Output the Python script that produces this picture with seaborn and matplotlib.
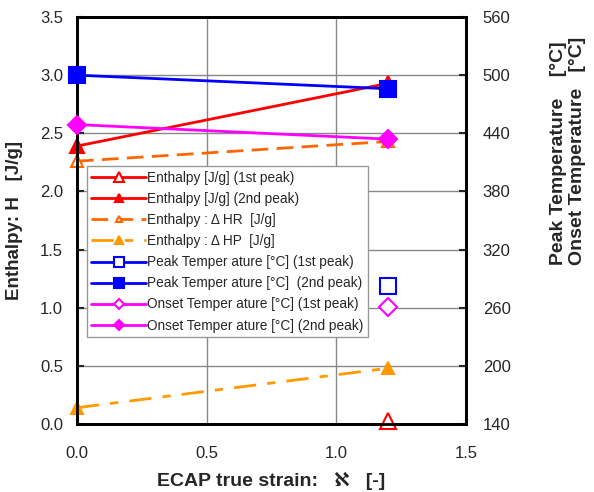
import numpy as np
import pandas as pd
import matplotlib
matplotlib.use("Agg")
import matplotlib.pyplot as plt
import seaborn as sns

# --- DATA ---
strain = [0.0, 1.2]
enthalpy_1st = [np.nan, 0.03]
enthalpy_2nd = [2.39, 2.93]
enthalpy_dhr = [2.26, 2.43]
enthalpy_dhp = [0.14, 0.48]
peak_1st = [np.nan, 282]
peak_2nd = [500, 486]
onset_1st = [np.nan, 261]
onset_2nd = [449, 434]

left_ticks = [0.0, 0.5, 1.0, 1.5, 2.0, 2.5, 3.0, 3.5]
right_ticks = [140, 200, 260, 320, 380, 440, 500, 560]
x_ticks = [0.0, 0.5, 1.0, 1.5]

# --- STYLE ---
sns.set_style("ticks")
plt.rcParams['font.family'] = ['Liberation Sans', 'DejaVu Sans']
plt.rcParams['axes.linewidth'] = 2

fig = plt.figure(figsize=(5.94, 4.92), dpi=100)
ax = fig.add_axes([0.1296, 0.1382, 0.6549, 0.8272])
ax2 = ax.twinx()

def draw(axis, y, label, color, marker, filled, ls='-', ms=10):
    df = pd.DataFrame({'x': strain, 'y': y}).dropna()
    sns.lineplot(data=df, x='x', y='y', ax=axis, color=color, marker=marker,
                 markersize=ms, markeredgewidth=1.5, markeredgecolor=color,
                 markerfacecolor=color if filled else 'white',
                 linestyle=ls, linewidth=2, label=label, errorbar=None,
                 clip_on=False, zorder=5)

draw(ax, enthalpy_1st, 'Enthalpy [J/g] (1st peak)', '#FF0000', '^', False, ms=11)
draw(ax, enthalpy_2nd, 'Enthalpy [J/g] (2nd peak)', '#FF0000', '^', True)
draw(ax, enthalpy_dhr, 'Enthalpy : Δ HR  [J/g]', '#FF6600', '^', False, ls=(0, (6, 3)), ms=8)
draw(ax, enthalpy_dhp, 'Enthalpy : Δ HP  [J/g]', '#FF9900', '^', True, ls=(0, (8, 4, 3, 4)), ms=9)
draw(ax2, peak_1st, 'Peak Temper ature [°C] (1st peak)', '#0000FF', 's', False, ms=11)
draw(ax2, peak_2nd, 'Peak Temper ature [°C]  (2nd peak)', '#0000FF', 's', True, ms=11)
draw(ax2, onset_1st, 'Onset Temper ature [°C] (1st peak)', '#FF00FF', 'D', False, ms=9)
draw(ax2, onset_2nd, 'Onset Temper ature [°C] (2nd peak)', '#FF00FF', 'D', True, ms=9)

h1, l1 = ax.get_legend_handles_labels()
h2, l2 = ax2.get_legend_handles_labels()
ax.get_legend().remove()
ax2.get_legend().remove()
leg = ax2.legend(h1 + h2, l1 + l2, loc='lower left', bbox_to_anchor=(0.025, 0.213),
                 fontsize=9.8, frameon=True, fancybox=False, framealpha=1,
                 edgecolor='#999999', handlelength=4.0, handletextpad=0.1,
                 labelspacing=0.52, borderpad=0.35, borderaxespad=0, markerscale=0.6)
leg.get_frame().set_linewidth(1)

# axes
ax.set_xlim(0, 1.5)
ax.set_ylim(0, 3.5)
ax2.set_ylim(140, 560)
ax.set_xticks(x_ticks)
ax.set_xticklabels([f"{t:.1f}" for t in x_ticks])
ax.set_yticks(left_ticks)
ax.set_yticklabels([f"{t:.1f}" for t in left_ticks])
ax2.set_yticks(right_ticks)
ax.grid(True, color='#888888', linewidth=1)
ax.tick_params(axis='both', direction='in', labelsize=12, width=1.5, length=5, pad=10)
ax.tick_params(axis='x', length=0, pad=16)
ax2.tick_params(axis='y', direction='in', labelsize=12, width=1.5, length=5, pad=12)
for a in (ax, ax2):
    for s in a.spines.values():
        s.set_linewidth(2)
        s.set_color('black')

ax.set_xlabel('ECAP true strain:   ℵ   [-]', fontsize=14, fontweight='bold', labelpad=8)
ax.set_ylabel('Enthalpy: H   [J/g]', fontsize=13.5, fontweight='bold', labelpad=12)
ax2.set_ylabel('')
fig.text(0.956, 0.462, 'Peak Temperature    [°C]\nOnset Temperature   [°C]',
         rotation=90, ha='center', va='bottom', multialignment='left',
         fontsize=14, fontweight='bold', linespacing=1.2)

fig.savefig('out.png', dpi=100)
